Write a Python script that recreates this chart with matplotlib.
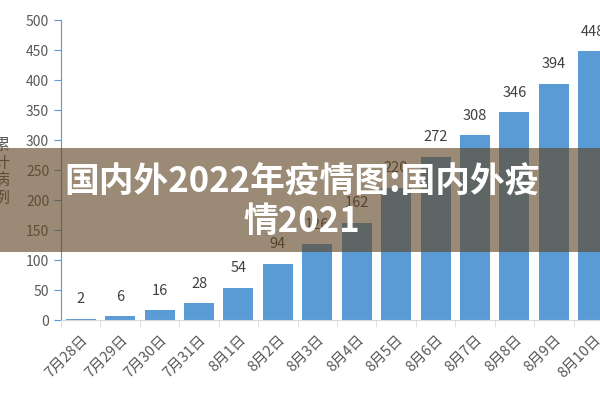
import matplotlib
matplotlib.use("Agg")
import matplotlib.pyplot as plt
from matplotlib.patches import Rectangle

plt.rcParams['font.family'] = ['Noto Sans CJK SC', 'DejaVu Sans']

# 数据
dates = ['7月28日', '7月29日', '7月30日', '7月31日', '8月1日', '8月2日', '8月3日',
         '8月4日', '8月5日', '8月6日', '8月7日', '8月8日', '8月9日', '8月10日']
cases = [2, 6, 16, 28, 54, 94, 126, 162, 220, 272, 308, 346, 394, 448]
y_ticks = [0, 50, 100, 150, 200, 250, 300, 350, 400, 450, 500]
y_label = '累计病例'
banner_text = '国内外2022年疫情图:国内外疫\n情2021'

fig = plt.figure(figsize=(6, 4), dpi=100)
ax = fig.add_axes([61 / 600, 80 / 400, 552 / 600, 300 / 400])

x = list(range(len(dates)))
ax.bar(x, cases, width=0.76, color='#5B9BD5', zorder=2)

for xi, v in zip(x, cases):
    ax.annotate(str(v), (xi, v), xytext=(0, 9), textcoords='offset points',
                ha='center', va='bottom', fontsize=10.5, color='#404040')

ax.set_xlim(-0.5, len(dates) - 0.5)
ax.set_ylim(0, 500)
ax.set_yticks(y_ticks)
ax.tick_params(axis='y', colors='#5B9BD5', length=5, labelcolor='#595959', labelsize=10)

ax.set_xticks(x)
ax.set_xticklabels(dates, rotation=45, ha='right', rotation_mode='anchor',
                   fontsize=10.5, color='#595959')
ax.tick_params(axis='x', length=0, pad=9)
ax.set_xticks([i - 0.5 for i in range(len(dates) + 1)], minor=True)
ax.tick_params(axis='x', which='minor', length=5, color='#D9D9D9')

for s in ['top', 'right']:
    ax.spines[s].set_visible(False)
ax.spines['left'].set_color('#5B9BD5')
ax.spines['bottom'].set_color('#D9D9D9')

# 纵轴标题（左侧被裁掉一半）
fig.text(1 / 600, 1 - 172 / 400, '\n'.join(y_label), ha='center', va='center',
         fontsize=11.5, color='#595959', linespacing=1.05)

# 横幅遮罩
fig.patches.append(Rectangle((0, 1 - 252 / 400), 1, 104 / 400, transform=fig.transFigure,
                             facecolor=(97 / 255, 70 / 255, 36 / 255), alpha=0.63,
                             zorder=10))
fig.text(0.503, 1 - 202 / 400, banner_text, ha='center', va='center', fontsize=25,
         fontweight='heavy', color='white', linespacing=1.15, zorder=11)

fig.savefig('out.png', dpi=100)
